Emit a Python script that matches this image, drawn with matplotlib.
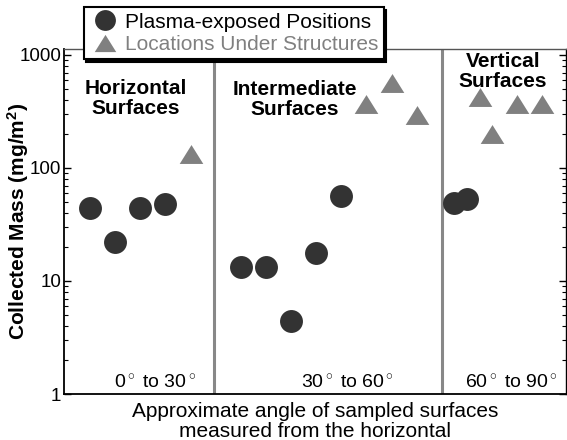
import matplotlib
matplotlib.use("Agg")
import matplotlib.pyplot as plt
from matplotlib.lines import Line2D

plt.rcParams['font.family'] = ['Liberation Sans', 'DejaVu Sans']
plt.rcParams['mathtext.fontset'] = 'custom'
plt.rcParams['mathtext.rm'] = 'Liberation Sans'
plt.rcParams['mathtext.bf'] = 'Liberation Sans:bold'
plt.rcParams['mathtext.it'] = 'Liberation Sans:italic'

# ---- data ----
circle_x = [1, 2, 3, 4, 7, 8, 9, 10, 11, 15.5, 16]
circle_y = [44, 22, 44, 48, 13.3, 13.3, 4.4, 17.6, 57, 48.7, 53.2]
tri_x = [5, 12, 13, 14, 16.5, 17, 18, 19]
tri_y = [133, 367, 562, 297, 428, 198, 367, 367]
dividers = [5.95, 15.0]
region_titles = [("Horizontal", "Surfaces"), ("Intermediate", "Surfaces"), ("Vertical", "Surfaces")]
region_title_x = [2.83, 9.16, 17.43]
region_title_y = [(505, 335), (500, 330), (873, 580)]
range_labels = ["0$^\\circ$ to 30$^\\circ$", "30$^\\circ$ to 60$^\\circ$", "60$^\\circ$ to 90$^\\circ$"]
range_label_x = [3.59, 11.23, 17.79]
yticks = [1, 10, 100, 1000]
ytick_labels = ["1", "10", "100", "1000"]

circle_color = "#333333"
tri_color = "#808080"
tri_marker = [(-1, -0.8), (1, -0.8), (0, 0.8)]

fig = plt.figure(figsize=(5.67, 4.40), dpi=100)
ax = fig.add_axes([64/567, 46/440, 502/567, 345/440])

ax.set_yscale('log')
ax.set_ylim(1, 1130)
ax.set_xlim(-0.035, 19.94)

for d in dividers:
    ax.axvline(d, color="#888888", lw=2.2, zorder=1)

ax.plot(circle_x, circle_y, 'o', ms=16.5, color=circle_color, mec='none', zorder=3)
ax.plot(tri_x, tri_y, ls='none', marker=tri_marker, ms=17, color=tri_color, mec='none', zorder=3)

for (l1, l2), x, (y1, y2) in zip(region_titles, region_title_x, region_title_y):
    ax.text(x, y1, l1, ha='center', va='center', fontsize=15, fontweight='bold', zorder=4)
    ax.text(x, y2, l2, ha='center', va='center', fontsize=15, fontweight='bold', zorder=4)

for lab, x in zip(range_labels, range_label_x):
    ax.text(x, 1.23, lab, ha='center', va='center', fontsize=14)

ax.set_yticks(yticks)
ax.set_yticklabels(ytick_labels, fontsize=13.5)
ax.set_xticks([])
ax.tick_params(axis='y', which='major', direction='in', length=5, width=1, pad=2, right=True)
ax.tick_params(axis='y', which='minor', direction='in', length=3, width=0.8, right=True)
ax.tick_params(axis='y', which='both', labelright=False)

for s in ['left', 'bottom']:
    ax.spines[s].set_linewidth(1.3)
ax.spines['top'].set_linewidth(1.0)
ax.spines['top'].set_color('#555555')
ax.spines['right'].set_linewidth(1.0)

ax.set_ylabel("Collected Mass (mg/m$^{\\mathbf{2}}$)", fontsize=15, fontweight='bold')
ax.yaxis.set_label_coords(-0.066, 0.5)
ax.set_xlabel("Approximate angle of sampled surfaces\nmeasured from the horizontal", fontsize=15,
              linespacing=1.05, labelpad=6)

handles = [Line2D([], [], ls='none', marker='o', ms=15, color=circle_color, mec='none'),
           Line2D([], [], ls='none', marker=tri_marker, ms=15.5, color=tri_color, mec='none')]
leg = fig.legend(handles, ["Plasma-exposed Positions", "Locations Under Structures"],
                 loc='upper left', bbox_to_anchor=(83.5/567, 1 - 7.3/440),
                 bbox_transform=fig.transFigure, fontsize=15, labelcolor=['black', tri_color],
                 frameon=True, fancybox=False, shadow={'color': 'black', 'alpha': 1},
                 borderaxespad=0, borderpad=0.25, handlelength=1.565, handletextpad=0.18,
                 labelspacing=0.16)
leg.get_frame().set_edgecolor('black')
leg.get_frame().set_linewidth(1.5)
leg.set_zorder(10)

fig.savefig("out.png", dpi=100)
